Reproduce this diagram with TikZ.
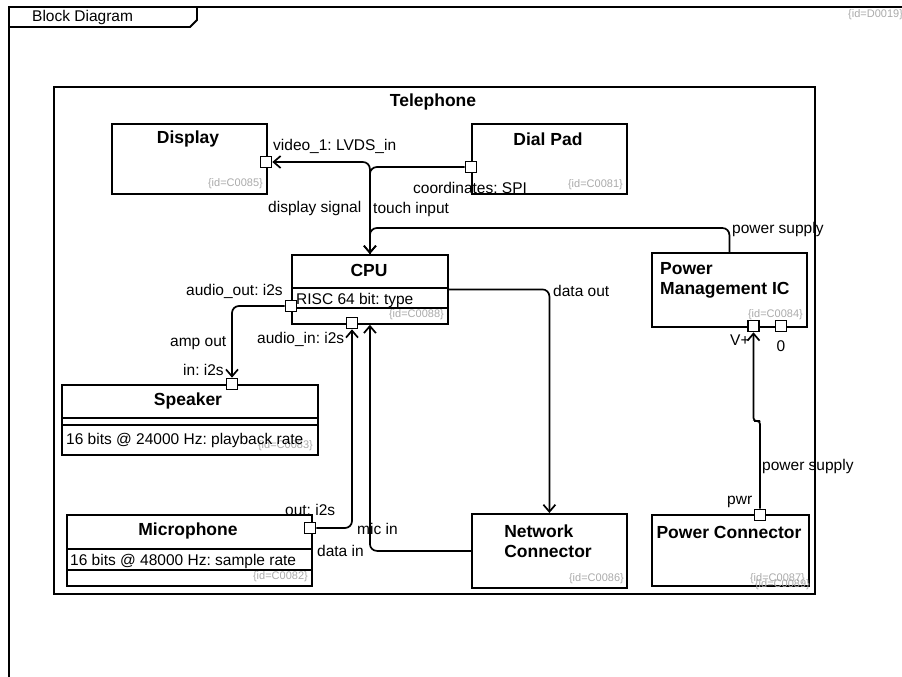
\documentclass[tikz,border=0pt]{standalone}
\usepackage{fontspec}
\setmainfont{Liberation Sans}
\usetikzlibrary{arrows.meta}
\definecolor{idgray}{HTML}{AAAAAA}
\frenchspacing
\begin{document}
\frenchspacing
\begin{tikzpicture}[x=1pt,y=-1pt,
  blk/.style={draw, line width=1.8pt, inner sep=0, anchor=north west},
  frm/.style={draw, line width=1.9pt},
  port/.style={draw, fill=white, line width=1.6pt, minimum size=11pt, inner sep=0},
  conn/.style={draw, line width=1.7pt, rounded corners=7pt},
  arr/.style={-{Straight Barb[length=7pt,width=12pt]}},
  lbl/.style={font=\fontsize{15.5}{18}\selectfont, inner sep=0},
  ttl/.style={font=\fontsize{17.5}{20}\selectfont\bfseries, inner sep=0},
  idt/.style={font=\fontsize{11}{13}\selectfont, text=idgray, inner sep=0, anchor=east},
  cline/.style={line width=1.8pt}]
\useasboundingbox (0,0) rectangle (902,677);
% outer frame
\draw[frm] (9,680) -- (9,7) -- (905,7);
\draw[frm] (9,27) -- (190,27) -- (197,20) -- (197,7);
\node[lbl, anchor=west] (bdl) at (32,17) {Block Diagram};
\node[idt, anchor=west] (did) at (848,15) {\{id=D0019\}};
% telephone frame
\node[blk, minimum width=761pt, minimum height=507pt] (tel) at (53,86) {};
\node[ttl] (telt) at (433,102) {Telephone};
% blocks
\node[blk, minimum width=155pt, minimum height=70pt] (disp) at (111,123) {};
\node[ttl] at (188,139) {Display};
\node[idt] at (263,184) {\{id=C0085\}};
\node[blk, minimum width=155pt, minimum height=70pt] (dial) at (471,123) {};
\node[ttl] at (548,139) {Dial Pad};
\node[idt] at (623,185) {\{id=C0081\}};
\node[blk, minimum width=156pt, minimum height=69pt] (cpu) at (291,254) {};
\node[ttl] at (369,270) {CPU};
\draw[cline] (cpu.west |- 0,288) -- (cpu.east |- 0,288);
\draw[cline] (cpu.west |- 0,308) -- (cpu.east |- 0,308);
\node[lbl, anchor=west] at (296,300) {RISC 64 bit: type};
\node[idt] at (444,315) {\{id=C0088\}};
\node[blk, minimum width=155pt, minimum height=74pt] (pmic) at (651,252) {};
\node[ttl, anchor=west, align=left] at (660,280) {Power\\Management IC};
\node[idt] at (803,315) {\{id=C0084\}};
\node[blk, minimum width=256pt, minimum height=70pt] (spk) at (61,384) {};
\node[ttl] at (188,401) {Speaker};
\draw[cline] (spk.west |- 0,418) -- (spk.east |- 0,418);
\draw[cline] (spk.west |- 0,425) -- (spk.east |- 0,425);
\node[idt] at (313,446) {\{id=C0083\}};
\node[lbl, anchor=west] at (66,440) {16 bits @ 24000 Hz: playback rate};
\node[blk, minimum width=245pt, minimum height=71pt] (mic) at (66,514) {};
\node[ttl] at (188,531) {Microphone};
\draw[cline] (mic.west |- 0,549) -- (mic.east |- 0,549);
\draw[cline] (mic.west |- 0,570) -- (mic.east |- 0,570);
\node[lbl, anchor=west] at (70,561) {16 bits @ 48000 Hz: sample rate};
\node[idt] at (308,577) {\{id=C0082\}};
\node[blk, minimum width=155pt, minimum height=74pt] (net) at (471,513) {};
\node[ttl, align=left] at (548,541) {Network\\Connector};
\node[idt] at (624,579) {\{id=C0086\}};
\node[blk, minimum width=157pt, minimum height=71pt] (pc) at (651,514) {};
\node[ttl] at (729,532) {Power Connector};
\node[idt] at (805,579) {\{id=C0087\}};
\node[idt] at (810,585) {\{id=C0089\}};
% ports
\node[port] (dispP) at (266,162) {};
\node[port] (dialP) at (471,167) {};
\node[port] (cpuO) at (291,306) {};
\node[port] (cpuI) at (352,323) {};
\node[port] (pmV) at (753.5,326) {};
\node[port] (pm0) at (781,326) {};
\node[port] (spkP) at (232,384) {};
\node[port] (micP) at (310,528) {};
\node[port] (pcP) at (760,515) {};
% connectors
\draw[conn, arr] (cpu.north) |- (dispP.east);
\draw[conn, arr] (dialP.west) -| (cpu.north);
\draw[conn, arr] (pmic.north) -- ++(0,-24) -| (cpu.north);
\draw[conn, arr] (cpu.east) -| (net.north);
\draw[conn, arr] (cpuO.west) -| (spkP.north);
\draw[conn, arr] (micP.east) -| (cpuI.south);
\draw[conn, arr] (net.west) -| (cpu.south);
\draw[conn, arr, rounded corners=3pt] (pcP.north) |- (757,421) -| (pmV.south);
% connector labels
\node[lbl, anchor=west] at (273,146) {video\_1: LVDS\_in};
\node[lbl, anchor=west] at (268,208) {display signal};
\node[lbl, anchor=west] at (373,209) {touch input};
\node[lbl, anchor=west] at (413,188) {coordinates: SPI};
\node[lbl, anchor=west] at (732,229) {power supply};
\node[lbl, anchor=west] at (186,291) {audio\_out: i2s};
\node[lbl, anchor=west] at (553,291) {data out};
\node[lbl, anchor=west] at (257,339) {audio\_in: i2s};
\node[lbl, anchor=west] at (170,343) {amp out};
\node[lbl, anchor=west] at (183,370) {in: i2s};
\node[lbl, anchor=west] at (730,340) {V+};
\node[lbl] at (781,346) {0};
\node[lbl, anchor=west] at (762,466) {power supply};
\node[lbl, anchor=west] at (727,502) {pwr};
\node[lbl, anchor=west] at (285,510) {out: i2s};
\node[lbl, anchor=west] at (357,529) {mic in};
\node[lbl, anchor=west] at (317,551) {data in};
\end{tikzpicture}
\end{document}
